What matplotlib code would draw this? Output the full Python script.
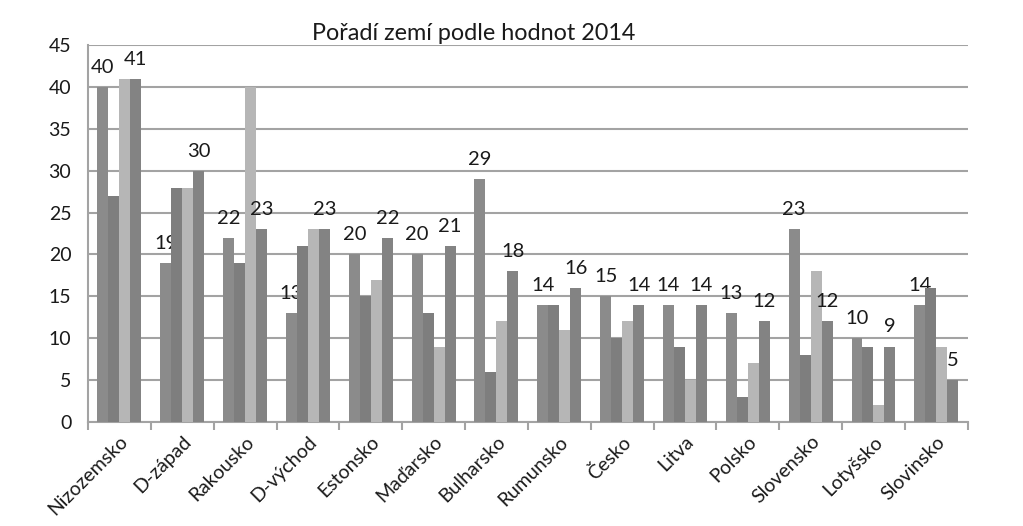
import numpy as np
import matplotlib
matplotlib.use("Agg")
import matplotlib.pyplot as plt

plt.rcParams['font.family'] = ['Lato', 'DejaVu Sans']

# Data
zeme = ['Nizozemsko', 'D-západ', 'Rakousko', 'D-východ', 'Estonsko', 'Maďarsko',
        'Bulharsko', 'Rumunsko', 'Česko', 'Litva', 'Polsko', 'Slovensko',
        'Lotyšsko', 'Slovinsko']
rada1 = [40, 19, 22, 13, 20, 20, 29, 14, 15, 14, 13, 23, 10, 14]
rada2 = [27, 28, 19, 21, 15, 13, 6, 14, 10, 9, 3, 8, 9, 16]
rada3 = [41, 28, 40, 23, 17, 9, 12, 11, 12, 5, 7, 18, 2, 9]
rada4 = [41, 30, 23, 23, 22, 21, 18, 16, 14, 14, 12, 12, 9, 5]

barvy = ['#8b8b8b', '#7e7e7e', '#b6b6b6', '#838383']

dpi = 100
fig = plt.figure(figsize=(1023 / dpi, 526 / dpi), dpi=dpi)
ax = fig.add_axes([0.086, 0.198, 0.86, 0.716])

x = np.arange(len(zeme))
w = 0.175
rady = [rada1, rada2, rada3, rada4]
for i, (vals, c) in enumerate(zip(rady, barvy)):
    pos = x + (i - 1.5) * w
    ax.bar(pos, vals, width=w, color=c, zorder=3)
    if i in (0, 3):
        for p, v in zip(pos, vals):
            ax.annotate(str(v), (p, v), xytext=(0, 8), textcoords='offset points',
                        ha='center', va='bottom', fontsize=14.5, color='#1a1a1a')

ax.set_xlim(-0.5, len(zeme) - 0.5)
ax.set_ylim(0, 45)
ax.set_yticks(range(0, 46, 5))
ax.yaxis.grid(True, color='#a3a3a3', linewidth=1.5, zorder=0)
ax.set_axisbelow(True)

for s in ['top', 'right']:
    ax.spines[s].set_visible(False)
for s in ['left', 'bottom']:
    ax.spines[s].set_color('#a3a3a3')
    ax.spines[s].set_linewidth(1.5)

ax.tick_params(axis='y', length=0, labelsize=14, pad=12, colors='#1a1a1a')
ax.set_xticks(np.arange(-0.5, len(zeme), 1.0), minor=False)
ax.set_xticklabels([])
ax.tick_params(axis='x', which='major', length=6, width=1.5, color='#a3a3a3', direction='out')
ax.set_xticks(x, minor=True)
ax.set_xticklabels(zeme, minor=True, rotation=45, ha='right', rotation_mode='anchor',
                   fontsize=14, color='#1a1a1a')
ax.tick_params(axis='x', which='minor', length=0, pad=8)

fig.text(0.463, 0.937, 'Pořadí zemí podle hodnot 2014', ha='center', va='center',
         fontsize=16.8, color='#1a1a1a')

fig.savefig('out.png', dpi=dpi)
